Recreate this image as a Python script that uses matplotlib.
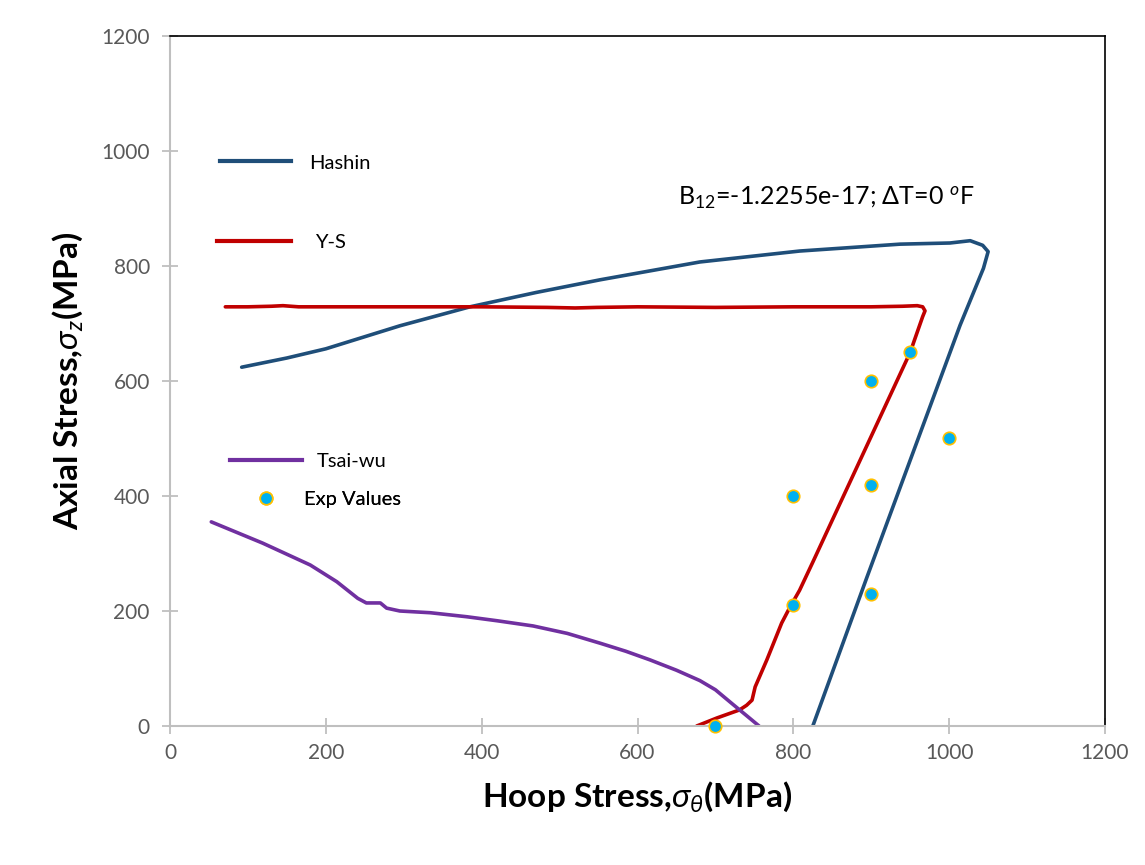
import numpy as np
import matplotlib.pyplot as plt
from matplotlib.lines import Line2D

plt.rcParams['font.family'] = ['Lato', 'DejaVu Sans']
plt.rcParams['mathtext.fontset'] = 'custom'
plt.rcParams['mathtext.rm'] = 'Lato'
plt.rcParams['mathtext.it'] = 'Lato:italic'
plt.rcParams['mathtext.bf'] = 'Lato:bold'
plt.rcParams['mathtext.fallback'] = 'stixsans'

# Hashin envelope (hoop, axial) in MPa
hashin_x = [92, 150, 200, 295, 385, 470, 552, 680, 808, 937, 1001, 1027, 1043, 1050, 1044, 1014, 894, 825]
hashin_y = [624, 640, 656, 696, 729, 754, 776, 807, 826, 838, 840, 844, 836, 825, 796, 697, 257, 0]

# Y-S envelope
ys_x = [71, 100, 130, 145, 165, 200, 300, 400, 484, 520, 548, 600, 700, 800, 900, 940, 959, 966, 969, 966, 950, 900, 851, 825, 808, 795, 785, 766, 751, 747, 740, 731, 702, 676]
ys_y = [729, 729, 730, 731, 729, 729, 729, 729, 728, 727, 728, 729, 728, 729, 729, 730, 731, 729, 722, 712, 650, 504, 361, 285, 236, 205, 179, 115, 68, 45, 36, 28, 14, 0]

# Tsai-wu envelope
tw_x = [53, 119, 180, 214, 241, 252, 262, 270, 278, 295, 334, 381, 420, 466, 510, 552, 585, 616, 650, 680, 700, 723, 740, 756]
tw_y = [355, 318, 280, 251, 222, 214, 214, 214, 205, 200, 197, 190, 183, 174, 161, 144, 130, 115, 97, 79, 63, 37, 18, 0]

# Experimental values
exp_x = [700, 800, 800, 900, 950, 900, 900, 1000]
exp_y = [0, 210, 400, 600, 650, 420, 230, 500]

c_hashin = '#1F4E79'
c_ys = '#C00000'
c_tw = '#7030A0'
c_exp = '#00B0F0'
c_edge = '#FFC000'

fig = plt.figure(figsize=(11.45, 8.65), dpi=100)
ax = fig.add_axes([170 / 1145, 1 - 726 / 865, 935 / 1145, 690 / 865])

ax.plot(hashin_x, hashin_y, color=c_hashin, lw=2.6, solid_capstyle='round', solid_joinstyle='round')
ax.plot(ys_x, ys_y, color=c_ys, lw=2.6, solid_capstyle='round', solid_joinstyle='round')
ax.plot(tw_x, tw_y, color=c_tw, lw=2.6, solid_capstyle='round', solid_joinstyle='round')
ax.plot(exp_x, exp_y, ls='none', marker='o', ms=9, mfc=c_exp, mec=c_edge, mew=1.2, zorder=5, clip_on=False)

ax.set_xlim(0, 1200)
ax.set_ylim(0, 1200)
ax.set_xticks(np.arange(0, 1201, 200))
ax.set_yticks(np.arange(0, 1201, 200))

grey = '#BFBFBF'
for s in ['left', 'bottom']:
    ax.spines[s].set_color(grey)
    ax.spines[s].set_linewidth(1.5)
for s in ['top', 'right']:
    ax.spines[s].set_color('black')
    ax.spines[s].set_linewidth(1.2)
ax.tick_params(axis='x', direction='inout', length=11, width=1.3, color=grey,
               labelsize=15, labelcolor='#595959', pad=7)
ax.tick_params(axis='y', direction='inout', length=11, width=1.3, color=grey,
               labelsize=15, labelcolor='#595959', pad=9)

ax.set_xlabel(r'Hoop Stress,$\sigma_{\theta}$(MPa)', fontsize=24, fontweight='bold', labelpad=12)
ax.set_ylabel(r'Axial Stress,$\sigma_{z}$(MPa)', fontsize=24, fontweight='bold', labelpad=12)

ax.text(652, 920, r'B$_{12}$=-1.2255e-17; $\Delta$T=0 $^{o}$F', fontsize=18, va='center', ha='left')

# legend entries placed separately, as in the original
def entry(handle, label, x, y, hl, pad):
    leg = ax.legend([handle], [label], loc='center left', bbox_to_anchor=(x, y),
                    frameon=False, fontsize=14.5, handlelength=hl, handletextpad=pad,
                    borderpad=0, borderaxespad=0)
    ax.add_artist(leg)

entry(Line2D([], [], color=c_hashin, lw=3), 'Hashin', 0.0535, 0.816, 3.5, 0.9)
entry(Line2D([], [], color=c_ys, lw=3), 'Y-S', 0.050, 0.701, 3.7, 1.2)
entry(Line2D([], [], color=c_tw, lw=3), 'Tsai-wu', 0.064, 0.383, 3.6, 0.7)
entry(Line2D([], [], ls='none', marker='o', ms=9, mfc=c_exp, mec=c_edge, mew=1.2),
      'Exp Values', 0.0856, 0.328, 1.6, 1.1)

fig.savefig('out.png', dpi=100)
